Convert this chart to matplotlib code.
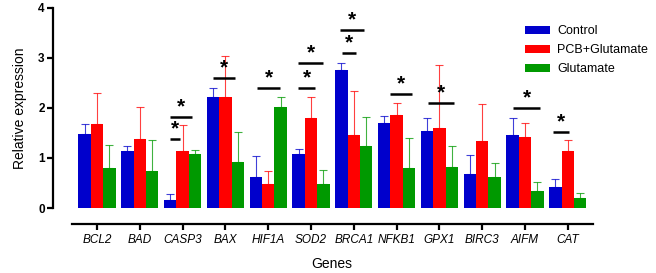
import matplotlib.pyplot as plt
import numpy as np

plt.rcParams['font.family'] = ['Liberation Sans', 'DejaVu Sans']

genes = ['BCL2', 'BAD', 'CASP3', 'BAX', 'HIF1A', 'SOD2', 'BRCA1', 'NFKB1',
         'GPX1', 'BIRC3', 'AIFM', 'CAT']
groups = ['Control', 'PCB+Glutamate', 'Glutamate']
colors = ['#0000CC', '#FF0000', '#009900']

# mean and upper error (SD)
control = [1.48, 1.14, 0.16, 2.22, 0.63, 1.08, 2.76, 1.70, 1.54, 0.68, 1.45, 0.42]
control_err = [0.20, 0.09, 0.13, 0.17, 0.40, 0.10, 0.14, 0.14, 0.26, 0.37, 0.35, 0.16]
pcb_glu = [1.68, 1.37, 1.14, 2.22, 0.49, 1.79, 1.46, 1.85, 1.59, 1.34, 1.42, 1.14]
pcb_glu_err = [0.62, 0.64, 0.52, 0.81, 0.26, 0.42, 0.88, 0.24, 1.26, 0.73, 0.28, 0.22]
glutamate = [0.81, 0.75, 1.08, 0.92, 2.02, 0.48, 1.24, 0.81, 0.83, 0.63, 0.35, 0.20]
glutamate_err = [0.44, 0.60, 0.08, 0.60, 0.20, 0.29, 0.58, 0.59, 0.41, 0.27, 0.17, 0.11]

# significance brackets: gene index, height, left / right offset from gene centre
sig_gene = [2, 2, 3, 4, 5, 5, 6, 6, 7, 8, 10, 11]
sig_y = [1.38, 1.82, 2.60, 2.39, 2.39, 2.89, 3.10, 3.55, 2.28, 2.09, 1.99, 1.51]
sig_x0 = [-0.30, -0.30, -0.28, -0.26, -0.30, -0.30, -0.28, -0.33, -0.16, -0.26, -0.28, -0.35]
sig_x1 = [-0.07, 0.21, 0.23, 0.28, 0.09, 0.28, 0.05, 0.23, 0.37, 0.35, 0.35, 0.02]

fig = plt.figure(figsize=(6.56, 2.73), dpi=100)
ax = fig.add_axes([0.0808, 0.238, 0.850, 0.733])

x = np.arange(len(genes))
w = 0.29
series = [(control, control_err), (pcb_glu, pcb_glu_err), (glutamate, glutamate_err)]
for k, ((vals, err), c, lab) in enumerate(zip(series, colors, groups)):
    pos = x + (k - 1) * w
    ax.bar(pos, vals, w, color=c, label=lab, linewidth=0)
    ax.errorbar(pos, vals, yerr=[np.zeros(len(vals)), err], fmt='none',
                ecolor=c, elinewidth=0.8, capsize=3, capthick=0.8, alpha=0.75)

for g, y, a, b in zip(sig_gene, sig_y, sig_x0, sig_x1):
    ax.plot([g + a, g + b], [y, y], color='black', lw=1.8, solid_capstyle='butt')
    ax.text(g + (a + b) / 2, y + 0.02, '*', ha='center', va='bottom',
            fontsize=15, fontweight='bold')

ax.set_xlim(-1.03, 12.0)
ax.set_ylim(0, 4)
ax.spines['top'].set_visible(False)
ax.spines['right'].set_visible(False)
ax.spines['left'].set_linewidth(1.6)
ax.spines['left'].set_bounds(0, 4)
ax.spines['bottom'].set_position(('outward', 11.5))
ax.spines['bottom'].set_bounds(-0.58, 11.59)
ax.spines['bottom'].set_linewidth(1.6)

ax.set_yticks([0, 1, 2, 3, 4])
ax.set_yticklabels(['0', '1', '2', '3', '4'], fontsize=8.5, fontweight='bold')
ax.tick_params(axis='y', length=4, width=1.6, pad=2)
ax.set_xticks(x)
ax.set_xticklabels(genes, fontsize=8.5, style='italic')
ax.tick_params(axis='x', length=4, width=1.6, pad=3)

ax.set_ylabel('Relative expression', fontsize=10, labelpad=8)
ax.set_xlabel('Genes', fontsize=10)
ax.xaxis.set_label_coords(0.50, -0.245)

ax.legend(loc='upper left', bbox_to_anchor=(0.792, 0.925), bbox_transform=fig.transFigure,
          frameon=False, fontsize=9, handlelength=2.0, handleheight=0.6,
          handletextpad=0.6, labelspacing=0.55, borderaxespad=0)

fig.savefig('out.png', dpi=100)
